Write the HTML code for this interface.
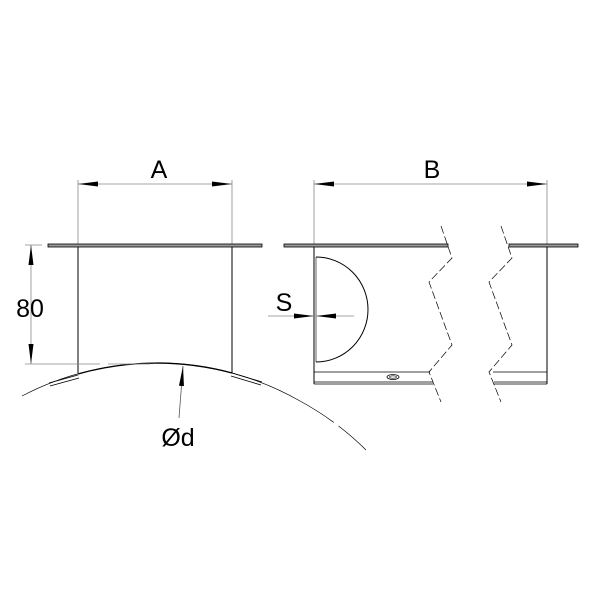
<!DOCTYPE html>
<html><head><style>body{margin:0;background:#fff}svg{display:block}</style></head><body>
<svg width="600" height="600" viewBox="0 0 600 600" xmlns="http://www.w3.org/2000/svg" font-family="Liberation Sans, sans-serif">
<defs>
<marker id="ar" markerWidth="20" markerHeight="8" refX="20" refY="4" orient="auto" markerUnits="userSpaceOnUse"><path d="M0,1.5 L20,4 L0,6.5z" fill="#000"/></marker>
</defs>
<g stroke="#000" fill="none">
<!-- Left view -->
<line x1="78" y1="180" x2="78" y2="244" stroke="#888" stroke-width="0.8"/>
<line x1="232" y1="180" x2="232" y2="244" stroke="#888" stroke-width="0.8"/>
<line x1="98" y1="184" x2="78" y2="184" stroke="#888" stroke-width="0.8" marker-end="url(#ar)"/>
<line x1="98" y1="184" x2="212" y2="184" stroke="#888" stroke-width="0.8"/>
<line x1="212" y1="184" x2="232" y2="184" stroke="#888" stroke-width="0.8" marker-end="url(#ar)"/>
<rect x="48" y="244" width="214" height="3" fill="#999" stroke-width="0.8"/>
<line x1="78" y1="247" x2="78" y2="373" stroke-width="1"/>
<line x1="232" y1="247" x2="232" y2="373" stroke-width="1"/>
<path d="M22,396 A290,290 0 0 1 300,401" stroke-width="0.7"/>
<path d="M78,374 A290,290 0 0 1 232,373" stroke-width="1.3"/>
<path d="M49,383 L78,375 M50,386 L79,378" stroke-width="0.8"/>
<path d="M232,373 L262,382 M231,376 L261,385" stroke-width="0.8"/>
<path d="M300,401 A290,290 0 0 1 366,450" stroke-width="0.7" stroke-dasharray="40,6"/>
<!-- 80 dim -->
<line x1="25" y1="245" x2="42" y2="245" stroke="#888" stroke-width="0.8"/>
<line x1="25" y1="364" x2="100" y2="364" stroke="#888" stroke-width="0.8"/>
<line x1="108" y1="364" x2="150" y2="364" stroke="#888" stroke-width="0.8"/>
<line x1="31" y1="265" x2="31" y2="245" stroke="#888" stroke-width="0.8" marker-end="url(#ar)"/>
<line x1="31" y1="265" x2="31" y2="344" stroke="#888" stroke-width="0.8"/>
<line x1="31" y1="344" x2="31" y2="364" stroke="#888" stroke-width="0.8" marker-end="url(#ar)"/>
<!-- Ød leader -->
<line x1="179" y1="418" x2="183" y2="366" stroke="#555" stroke-width="0.8" marker-end="url(#ar)"/>
<!-- Right view -->
<line x1="314" y1="180" x2="314" y2="244" stroke="#888" stroke-width="0.8"/>
<line x1="547" y1="180" x2="547" y2="244" stroke="#888" stroke-width="0.8"/>
<line x1="334" y1="184" x2="314" y2="184" stroke="#888" stroke-width="0.8" marker-end="url(#ar)"/>
<line x1="334" y1="184" x2="527" y2="184" stroke="#888" stroke-width="0.8"/>
<line x1="527" y1="184" x2="547" y2="184" stroke="#888" stroke-width="0.8" marker-end="url(#ar)"/>
<rect x="284" y="244" width="164" height="3" fill="#999" stroke-width="0.8"/>
<rect x="509" y="244" width="69" height="3" fill="#999" stroke-width="0.8"/>
<line x1="314" y1="247" x2="314" y2="384" stroke-width="1"/>
<line x1="547" y1="247" x2="547" y2="384" stroke-width="1"/>
<line x1="316" y1="257" x2="316" y2="362" stroke-width="0.6"/>
<path d="M316,257 A52,52.5 0 0 1 316,362" stroke-width="1"/>
<path d="M314,372 H430 M314,382 H433 M314,384 H433 M493,372 H547 M494,382 H547 M494,384 H547" stroke-width="0.8"/>
<ellipse cx="393" cy="377" rx="6" ry="2.5" stroke-width="0.8"/>
<ellipse cx="393" cy="377" rx="3.5" ry="1.2" stroke-width="0.6"/>
<path d="M441,226 L452,258 L429,282 L452,345 L429,372 L441,402" stroke-width="0.7" stroke-dasharray="8,3"/>
<path d="M501,226 L512,258 L489,282 L512,345 L489,372 L501,402" stroke-width="0.7" stroke-dasharray="8,3"/>
<!-- S dim -->
<line x1="268" y1="316" x2="294" y2="316" stroke="#888" stroke-width="0.8"/>
<line x1="294" y1="316" x2="314" y2="316" stroke="#888" stroke-width="0.8" marker-end="url(#ar)"/>
<line x1="354" y1="316" x2="336" y2="316" stroke="#888" stroke-width="0.8"/>
<line x1="336" y1="316" x2="316" y2="316" stroke="#888" stroke-width="0.8" marker-end="url(#ar)"/>
</g>
<g fill="#000" font-size="25">
<text x="159" y="178" text-anchor="middle">A</text>
<text x="432" y="178" text-anchor="middle">B</text>
<text x="30" y="317" text-anchor="middle">80</text>
<text x="284" y="311" text-anchor="middle">S</text>
<text x="178" y="446" text-anchor="middle">Ød</text>
</g>
</svg>
</body></html>
